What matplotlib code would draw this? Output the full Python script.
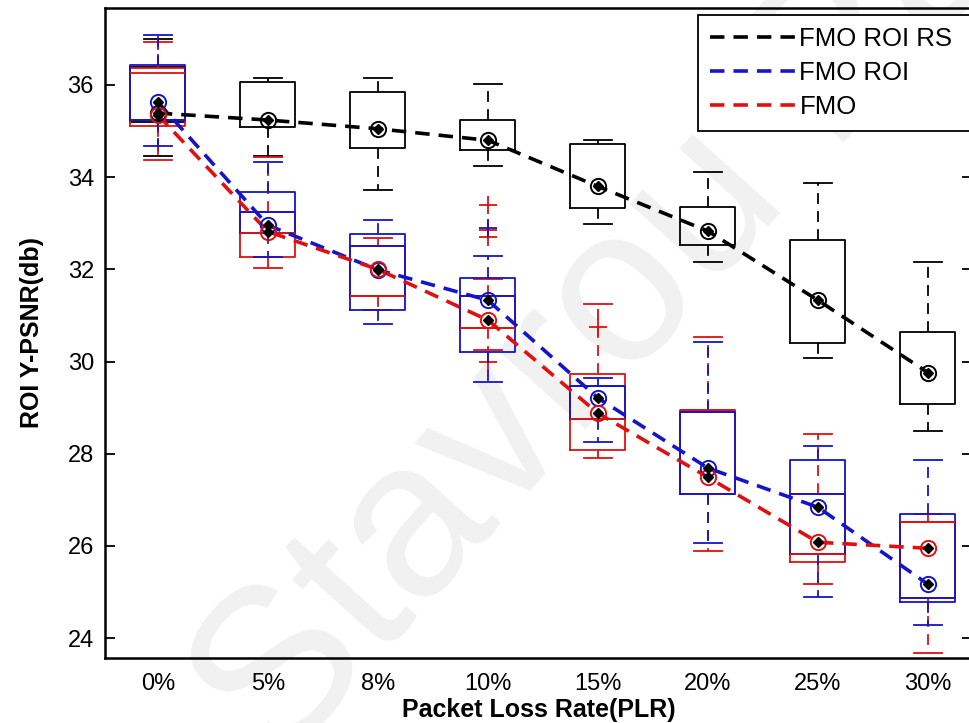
import numpy as np
import matplotlib.pyplot as plt

plt.rcParams['font.family'] = ['Liberation Sans', 'DejaVu Sans']

# Datos
plr = ['0%', '5%', '8%', '10%', '15%', '20%', '25%', '30%']

# FMO ROI RS (negro)
rs_whishi = [37.00, 36.15, 36.15, 36.02, 34.81, 34.11, 33.87, 32.16]
rs_q3 = [36.40, 36.07, 35.85, 35.24, 34.72, 33.35, 32.64, 30.64]
rs_med = [35.30, 35.24, 35.05, 34.80, 33.80, 32.83, 31.33, 29.76]
rs_q1 = [35.20, 35.09, 34.63, 34.59, 33.33, 32.53, 30.40, 29.08]
rs_whislo = [34.46, 34.45, 33.72, 34.24, 32.98, 32.16, 30.08, 28.49]
rs_mean = [35.39, 35.24, 35.05, 34.80, 33.80, 32.83, 31.33, 29.76]

# FMO ROI (azul)
roi_whishi = [37.08, 34.33, 33.07, 32.30, 29.65, 30.42, 28.17, 27.86]
roi_q3 = [36.43, 33.68, 32.77, 31.81, 29.47, 28.90, 27.86, 26.69]
roi_med = [35.25, 33.25, 32.51, 31.42, 29.47, 28.90, 27.12, 24.87]
roi_q1 = [35.24, 32.80, 31.12, 30.21, 28.76, 27.12, 25.82, 24.78]
roi_whislo = [34.68, 32.27, 30.81, 29.55, 28.25, 26.06, 24.89, 24.28]
roi_mean = [35.63, 32.96, 31.99, 31.33, 29.21, 27.69, 26.84, 25.17]
roi_fliers = [[], [], [], [32.90], [], [], [], []]

# FMO (rojo)
fmo_whishi = [36.93, 34.43, 32.68, 31.80, 31.25, 30.53, 28.43, 26.69]
fmo_q3 = [36.37, 33.25, 32.51, 31.42, 29.73, 28.95, 27.12, 26.52]
fmo_med = [36.26, 32.80, 31.42, 30.73, 28.76, 28.95, 25.82, 26.52]
fmo_q1 = [35.11, 32.27, 31.42, 30.73, 28.08, 27.12, 25.65, 24.87]
fmo_whislo = [34.37, 32.03, 31.12, 30.25, 27.90, 25.89, 25.17, 23.67]
fmo_mean = [35.35, 32.82, 32.00, 30.90, 28.88, 27.49, 26.08, 25.95]
fmo_fliers = [[], [], [], [33.40, 32.85, 32.70, 29.99], [30.75], [], [], []]

x = np.arange(1, len(plr) + 1)


def armar_stats(whishi, q3, med, q1, whislo, fliers=None):
    stats = []
    for i in range(len(q3)):
        stats.append(dict(whishi=whishi[i], q3=q3[i], med=med[i], q1=q1[i],
                          whislo=whislo[i],
                          fliers=fliers[i] if fliers is not None else []))
    return stats


fig = plt.figure(figsize=(9.7, 7.23), dpi=100)
ax = fig.add_axes([105/970, 1 - 658/723, (972 - 105)/970, (658 - 8)/723])

# Marca de agua
ax.text(645/970, 1 - 278/723, 'Stavrou Pan', transform=fig.transFigure,
        fontsize=160, color='#f1f1f1', rotation=48, rotation_mode='anchor',
        ha='center', va='center', clip_on=False, zorder=0.5)

rs = (armar_stats(rs_whishi, rs_q3, rs_med, rs_q1, rs_whislo), rs_mean, 'black', 'FMO ROI RS', 0)
roi = (armar_stats(roi_whishi, roi_q3, roi_med, roi_q1, roi_whislo, roi_fliers), roi_mean, '#1414cc', 'FMO ROI', 1.3)
fmo = (armar_stats(fmo_whishi, fmo_q3, fmo_med, fmo_q1, fmo_whislo, fmo_fliers), fmo_mean, '#e01010', 'FMO', 1.3)

# cajas: negro abajo, despues rojo, el azul arriba
for stats, medias, color, nombre, lw_med in [rs, fmo, roi]:
    ax.bxp(stats, positions=x, widths=0.5, showfliers=True,
           boxprops=dict(color=color, linewidth=1.3),
           whiskerprops=dict(color=color, linewidth=1.3, linestyle=(0, (6, 4))),
           capprops=dict(color=color, linewidth=1.3),
           medianprops=dict(color=color, linewidth=lw_med),
           flierprops=dict(marker='+', markeredgecolor=color, markersize=13,
                           markeredgewidth=1.3))

lineas = []
for stats, medias, color, nombre, lw_med in [rs, roi, fmo]:
    l, = ax.plot(x, medias, color=color, linewidth=2.6, dashes=(4, 2.5),
                 label=nombre, zorder=4)
    lineas.append(l)
    ax.plot(x, medias, linestyle='none', marker='o', markersize=11,
            markerfacecolor='none', markeredgecolor=color,
            markeredgewidth=1.4, zorder=5)
    ax.plot(x, medias, linestyle='none', marker='D', markersize=5,
            color='black', zorder=6)

ax.set_xlim(0.52, 8.4)
ax.set_ylim(23.57, 37.67)
ax.set_xticks(x)
ax.set_xticklabels(plr)
ax.set_yticks(np.arange(24, 37, 2))
ax.tick_params(axis='y', direction='in', length=7, width=1.3, right=True,
               labelsize=17, pad=8)
ax.tick_params(axis='x', length=0, labelsize=17, pad=11)
for s in ax.spines.values():
    s.set_linewidth(1.8)

ax.set_xlabel('Packet Loss Rate(PLR)', fontsize=18, fontweight='bold', labelpad=2)
ax.set_ylabel('ROI Y-PSNR(db)', fontsize=18, fontweight='bold', labelpad=17)

leg = ax.legend(handles=lineas, loc='upper left', mode='expand',
                bbox_to_anchor=(698/970, 1 - 130/723, 300/970, 115/723),
                bbox_transform=fig.transFigure, borderaxespad=0,
                fontsize=18.5, fancybox=False, framealpha=1,
                edgecolor='black', handlelength=3.4, handletextpad=0.1,
                labelspacing=0.4, borderpad=0.45)
leg.get_frame().set_linewidth(1.3)

fig.savefig('out.png', dpi=100)
